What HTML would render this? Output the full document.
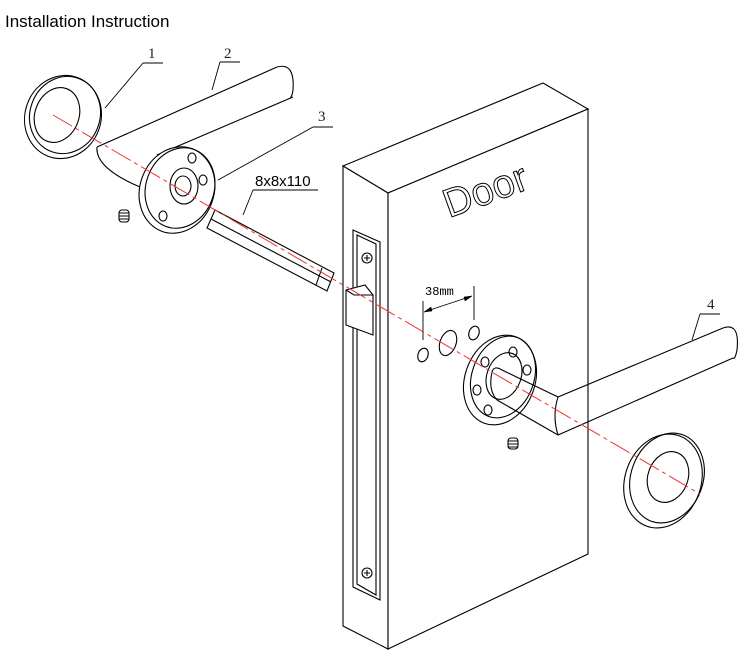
<!DOCTYPE html>
<html><head><meta charset="utf-8"><style>
html,body{margin:0;padding:0;background:#fff;}
svg{display:block;}
</style></head><body>
<svg width="756" height="662" viewBox="0 0 756 662" xmlns="http://www.w3.org/2000/svg" font-family="Liberation Sans, sans-serif">
<rect width="756" height="662" fill="#fff"/>
<text x="5" y="27" font-size="17" fill="#000">Installation Instruction</text>

<g fill="none" stroke="#000" stroke-width="1.1">
<!-- Door -->
<polygon points="343,166 543,83 588,109 388,193" fill="#fff"/>
<polygon points="343,166 388,193 388,649 343,626" fill="#fff"/>
<polygon points="388,193 588,109 588,554 388,649" fill="#fff"/>
<!-- faceplate -->
<polygon points="353,230 380,242 380,600 353,587"/>
<polygon points="357,235 376,244 376,595 357,584"/>
<circle cx="367" cy="258" r="5"/><path d="M364,258h6M367,255v6"/>
<circle cx="367" cy="573" r="5"/><path d="M364,573h6M367,570v6"/>
<!-- latch -->
<polygon points="346,290 365,285 373,295 373,335 346,325" fill="#fff"/>
<path d="M346,290l8,5h19"/>
<!-- Door text -->
<text x="0" y="0" font-size="40" fill="#fff" stroke="#000" stroke-width="1" transform="translate(449,218) rotate(-20)">Door</text>
<!-- holes -->
<ellipse cx="423" cy="355" rx="5" ry="7" transform="rotate(20 423 355)"/>
<ellipse cx="448" cy="343" rx="8" ry="13" transform="rotate(20 448 343)"/>
<ellipse cx="474" cy="333" rx="5" ry="7" transform="rotate(20 474 333)"/>
<!-- dim -->
<path d="M423,301v39M474,286v34M424,312L472,296" stroke-width="0.9"/>
<path d="M424,312l7,-5l1,4z M472,296l-7,5l-1,-4z" fill="#000" stroke-width="0.5"/>
<!-- right rose -->
<ellipse cx="500" cy="380" rx="35" ry="46" transform="rotate(20 500 380)" fill="#fff"/>
<ellipse cx="503" cy="377" rx="31" ry="42" transform="rotate(20 503 377)"/>
<ellipse cx="504" cy="376" rx="17" ry="24" transform="rotate(20 504 376)"/>
<ellipse cx="485" cy="362" rx="4" ry="5"/><ellipse cx="513" cy="352" rx="4" ry="5"/><ellipse cx="527" cy="370" rx="4" ry="5"/><ellipse cx="477" cy="390" rx="4" ry="5"/><ellipse cx="488" cy="410" rx="4" ry="5"/>
<!-- handle 4 -->
<path d="M492,372 Q494,365 502,370 L558,397 L723,328 M497,400 L558,435 L733,358" fill="none"/>
<path d="M558,397 Q552,416 558,435"/>
<path d="M492,372 Q488,390 497,400" />
<path d="M723,328 Q740,322 737,350 Q735,360 733,358"/>
<!-- right escutcheon -->
<ellipse cx="663" cy="481" rx="38" ry="48" transform="rotate(20 663 481)" fill="#fff"/>
<ellipse cx="667" cy="478" rx="36" ry="46" transform="rotate(20 667 478)"/>
<ellipse cx="668" cy="477" rx="20" ry="26" transform="rotate(20 668 477)"/>
<!-- grub right -->
<rect x="508" y="438" width="10" height="11" rx="3"/>
<path d="M508,441h10M508,444h10M508,447h10"/>

<!-- left escutcheon 1 -->
<ellipse cx="63" cy="117" rx="38" ry="42" transform="rotate(20 63 117)" fill="#fff"/>
<ellipse cx="65" cy="115" rx="35" ry="39" transform="rotate(20 65 115)"/>
<ellipse cx="57" cy="115" rx="22" ry="28" transform="rotate(20 57 115)"/>
<!-- lever 2 -->
<path d="M97,147 L277,67 M140,187 Q95,168 97,147 M157,155 L293,97 M140,187 L157,180"/>
<path d="M277,67 Q295,62 293,90 Q292,97 290,98"/>
<!-- rose 3 -->
<ellipse cx="177" cy="190" rx="37" ry="44" transform="rotate(20 177 190)" fill="#fff"/>
<ellipse cx="180" cy="188" rx="34" ry="41" transform="rotate(20 180 188)"/>
<ellipse cx="184" cy="186" rx="14" ry="18"/>
<ellipse cx="183" cy="186" rx="8" ry="10"/>
<ellipse cx="192" cy="158" rx="4" ry="5"/><ellipse cx="203" cy="180" rx="4" ry="5"/><ellipse cx="163" cy="216" rx="4" ry="5"/>
<!-- spindle -->
<polygon points="215,210 334,273 327,291 207,228" fill="#fff"/>
<path d="M211,219 L331,282 M322,268 L316,285"/>
<!-- grub left -->
<rect x="119" y="210" width="10" height="12" rx="3"/>
<path d="M119,213h10M119,216h10M119,219h10"/>

<!-- labels -->
<path d="M143,63h20M143,63L105,108M220,62h20M220,62L212,90M313,127h20M313,127L218,180M253,190h65M253,190L243,215M700,314h20M700,314L692,340" stroke-width="0.9"/>
</g>
<g font-family="Liberation Serif, serif" font-size="15" fill="#222">
<text x="148" y="58">1</text><text x="224" y="58">2</text><text x="318" y="121">3</text><text x="707" y="309">4</text>
</g>
<text x="255" y="186" font-size="15">8x8x110</text>
<text x="425" y="295" font-size="12" font-family="Liberation Mono, monospace">38mm</text>
<line x1="53" y1="115" x2="700" y2="494" stroke="#e33" stroke-width="1" stroke-dasharray="22,4,4,4"/>
</svg>
</body></html>
